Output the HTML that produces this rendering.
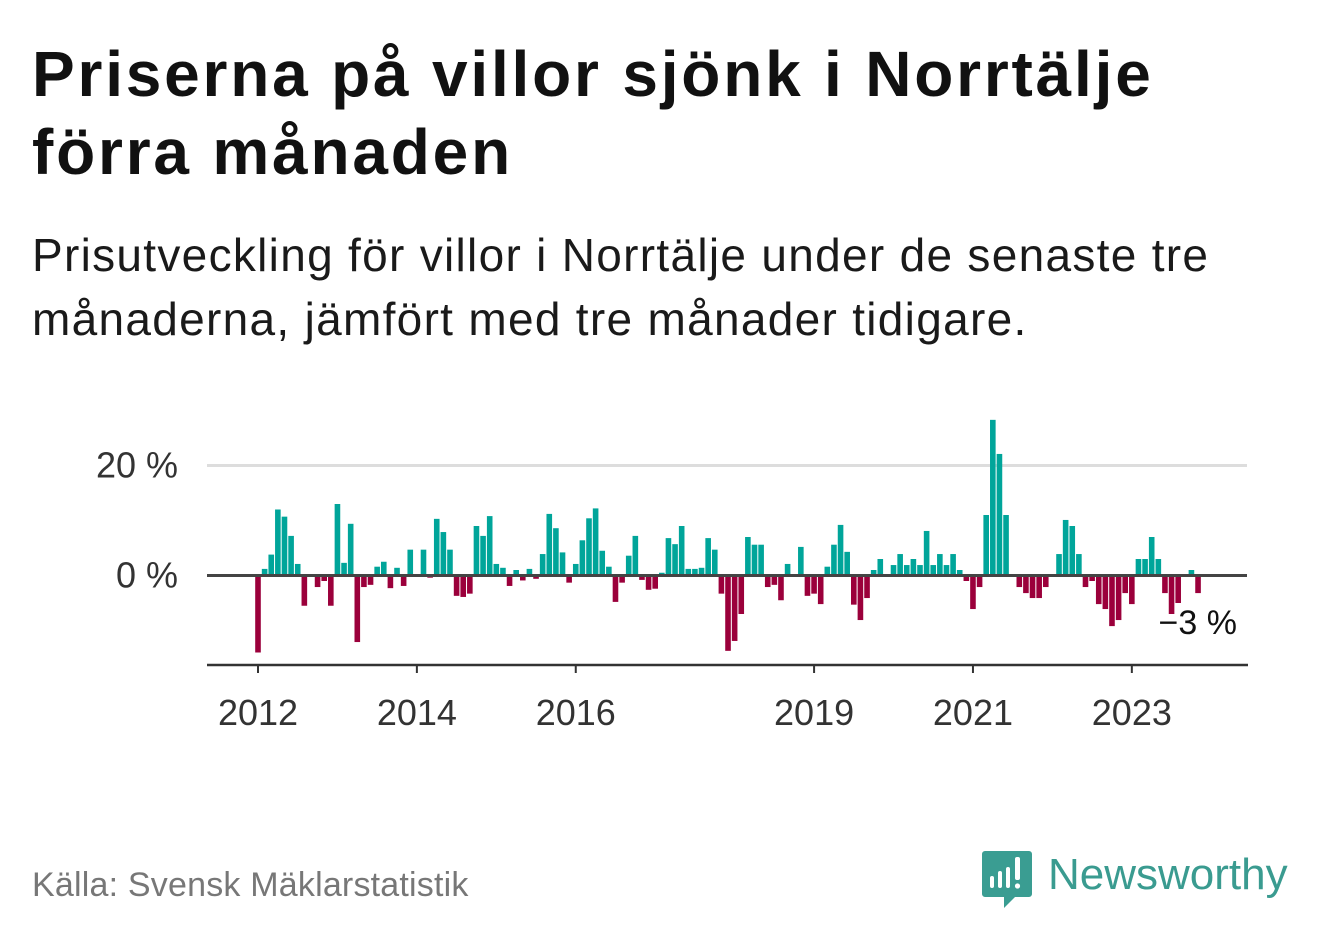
<!DOCTYPE html>
<html><head><meta charset="utf-8">
<style>
html,body{margin:0;padding:0;background:#fff;}
body{width:1322px;height:939px;position:relative;overflow:hidden;font-family:"Liberation Sans","DejaVu Sans",sans-serif;color:#111;}
h1{position:absolute;left:32px;top:35px;margin:0;font-size:64px;line-height:78px;font-weight:bold;letter-spacing:2.8px;white-space:nowrap;}
.sub{position:absolute;left:32px;top:223px;margin:0;font-size:46px;line-height:64px;color:#1a1a1a;letter-spacing:1.3px;white-space:nowrap;}
.src{position:absolute;left:32px;top:866px;font-size:34px;line-height:39px;color:#777;white-space:nowrap;letter-spacing:0.2px;}
svg{position:absolute;left:0;top:0;}
</style></head><body>
<h1>Priserna på villor sjönk i Norrtälje<br>förra månaden</h1>
<p class="sub">Prisutveckling för villor i Norrtälje under de senaste tre<br>månaderna, jämfört med tre månader tidigare.</p>
<svg id="chart" width="1322" height="939"></svg>
<div class="src">Källa: Svensk Mäklarstatistik</div>
<svg width="1322" height="939">
<path d="M985 851 h44 a3 3 0 0 1 3 3 v40 a3 3 0 0 1 -3 3 h-14 l-11 11 v-11 h-19 a3 3 0 0 1 -3 -3 v-40 a3 3 0 0 1 3 -3z" fill="#3a9d92"/>
<rect x="990" y="876" width="4" height="12" rx="2" fill="#fff"/>
<rect x="998" y="871" width="4" height="17" rx="2" fill="#fff"/>
<rect x="1006" y="867" width="4" height="21" rx="2" fill="#fff"/>
<rect x="1015" y="857" width="5" height="23" rx="2" fill="#fff"/>
<circle cx="1017.5" cy="886" r="2.6" fill="#fff"/>
<text x="1048" y="889" font-family="Liberation Sans, sans-serif" font-size="44" fill="#3a9b90">Newsworthy</text>
</svg>
<script>
const startYear = 2012;
const values = [-14,1.2,3.8,12,10.7,7.2,2.1,-5.5,null,-2.1,-1.0,-5.5,13,2.3,9.4,-12.1,-2.1,-1.7,1.6,2.5,-2.3,1.4,-1.9,4.7,null,4.7,-0.4,10.3,7.9,4.7,-3.7,-3.9,-3.3,9.0,7.2,10.8,2.1,
1.4,-1.9,1.0,-0.9,1.2,-0.6,3.9,11.2,8.6,4.2,-1.3,2.1,6.4,10.4,12.2,4.5,1.6,-4.8,-1.3,3.6,7.2,-0.8,-2.6,-2.4,0.5,6.8,5.7,9.0,1.2,1.2,1.4,6.8,4.7,-3.3,-13.7,-11.9,-7.0,
7.0,5.6,5.6,-2.1,-1.7,-4.5,2.1,null,5.2,-3.7,-3.3,-5.2,1.6,5.6,9.2,4.3,-5.3,-8.1,-4.1,1.0,3.0,null,1.9,3.9,1.9,3.0,1.9,8.1,1.9,3.9,1.9,3.9,1.0,-1.0,-6.1,-2.1,11.0,
28.3,22.1,11.0,null,-2.1,-3.2,-4.1,-4.1,-2.1,null,3.9,10.1,9.0,3.9,-2.1,-1.0,-5.2,-6.1,-9.2,-8.1,-3.2,-5.2,3.0,3.0,7.0,3.0,-3.2,-7.0,-5.0,null,1.0,-3.2];
const yTicks = [0,20];
const yTickLabels = ["0 %","20 %"];
const xTickYears = [2012,2014,2016,2019,2021,2023];
const lastLabel = "−3 %";

const NS = "http://www.w3.org/2000/svg";
const svg = document.getElementById('chart');
const x0 = 258, monthW = 6.62;
const y0 = 575.5, pxPerUnit = 5.5;
const xScale = m => x0 + m * monthW;
const yScale = v => y0 - v * pxPerUnit;
function mk(tag, attrs){const e=document.createElementNS(NS,tag);for(const k in attrs)e.setAttribute(k,attrs[k]);svg.appendChild(e);return e;}

yTicks.forEach((t,i)=>{
  if(t!==0){
    const g = mk('line',{x1:207,x2:1247,y1:yScale(t),y2:yScale(t),stroke:'#dddddd','stroke-width':3});
    
    
  }
  const l = mk('text',{x:178,y:yScale(t)+12,'text-anchor':'end','font-size':36,fill:'#333'});
  l.textContent = yTickLabels[i];
  
  
});

values.forEach((v,i)=>{
  if(v===null) return;
  const x = xScale(i) - 2.8;
  const y = v>=0 ? yScale(v) : y0;
  const h = Math.abs(v)*pxPerUnit;
  const r = mk('rect',{x:x,y:y,width:5.6,height:h,fill: v>=0 ? '#00a59a' : '#9b003b'});
  
  
});

const zl = mk('line',{x1:207,x2:1247,y1:y0,y2:y0,stroke:'#444','stroke-width':3});



const ax = mk('line',{x1:207,x2:1248,y1:665,y2:665,stroke:'#333','stroke-width':2.5});



xTickYears.forEach(yr=>{
  const x = xScale((yr-startYear)*12);
  const t = mk('line',{x1:x,x2:x,y1:665,y2:673,stroke:'#333','stroke-width':2});
  
  
  const l = mk('text',{x:x,y:725,'text-anchor':'middle','font-size':36,fill:'#333'});
  l.textContent = yr;
  
  
});

const lab = mk('text',{x:1237,y:634,'text-anchor':'end','font-size':34,fill:'#111',stroke:'#fff','stroke-width':5,'paint-order':'stroke'});
lab.textContent = lastLabel;


</script>
</body></html>
